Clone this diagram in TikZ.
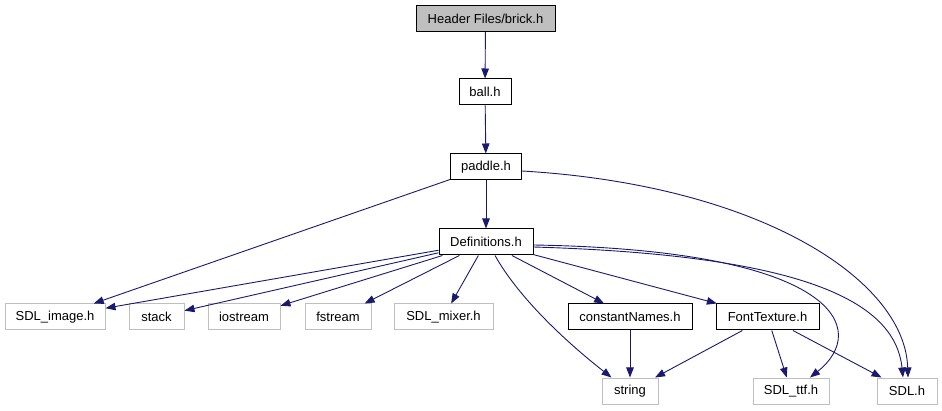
\documentclass[tikz,border=0pt]{standalone}
\usepackage{fontspec}
\setmainfont{Liberation Sans}
\usetikzlibrary{arrows.meta,calc}
\definecolor{edgeblue}{HTML}{191970}
\definecolor{extgray}{HTML}{BFBFBF}
\tikzset{
  nd/.style={draw=black, line width=1pt, inner sep=0pt, minimum height=26pt, font=\fontsize{13}{15}\selectfont, text=black},
  ext/.style={nd, draw=extgray},
  top/.style={nd, fill=extgray},
  edge/.style={draw=edgeblue, line width=0.9pt, -{Triangle[length=10pt,width=7.5pt]}}
}
\begin{document}
\begin{tikzpicture}[x=1pt,y=-1pt]
\useasboundingbox (0,0) rectangle (942,411);
\node[top, minimum width=139pt] (brick) at (485.5,18.5) {Header Files/brick.h};
\node[nd, minimum width=52pt] (ball) at (485,92) {ball.h};
\node[nd, minimum width=71pt] (paddle) at (486,167) {paddle.h};
\node[nd, minimum width=94pt] (def) at (486,242) {Definitions.h};
\node[ext, minimum width=100pt] (img) at (55,317) {SDL\_image.h};
\node[ext, minimum width=55pt] (stack) at (156.5,317) {stack};
\node[ext, minimum width=72pt] (ios) at (244,317) {iostream};
\node[ext, minimum width=66pt] (fs) at (338,317) {fstream};
\node[ext, minimum width=99pt] (mix) at (443.5,317) {SDL\_mixer.h};
\node[nd, minimum width=124pt] (cn) at (630,317) {constantNames.h};
\node[nd, minimum width=103pt] (ft) at (767.5,317) {FontTexture.h};
\node[ext, minimum width=56pt] (str) at (630,391) {string};
\node[ext, minimum width=76pt] (ttf) at (791,391) {SDL\_ttf.h};
\node[ext, minimum width=60pt] (sdl) at (907,391) {SDL.h};

\draw[edge] (brick) -- (ball);
\draw[edge] (ball) -- (paddle);
\draw[edge] (paddle) -- (def);
\draw[edge] (paddle) -- (img);
\draw[edge] ([yshift=-4pt]paddle.east) .. controls (760,185) and (905,280) .. ([xshift=1pt]sdl.north);
\draw[edge] (def) -- (img);
\draw[edge] (def) -- (stack);
\draw[edge] (def) -- (ios);
\draw[edge] (def) -- (fs);
\draw[edge] (def) -- (mix);
\draw[edge] (def) -- (cn);
\draw[edge] (def) -- (ft);
\draw[edge] ([xshift=9pt]def.south) .. controls (520,300) and (570,345) .. ([xshift=10pt]str.north west);
\draw[edge] ([yshift=-3pt]def.east) .. controls (840,250) and (870,330) .. ([xshift=19pt]ttf.north);
\draw[edge] ([yshift=-5pt]def.east) .. controls (800,255) and (895,300) .. ([xshift=-4pt]sdl.north);
\draw[edge] (cn) -- (str);
\draw[edge] (ft) -- (str);
\draw[edge] (ft) -- (ttf);
\draw[edge] (ft) -- (sdl);
\end{tikzpicture}
\end{document}
